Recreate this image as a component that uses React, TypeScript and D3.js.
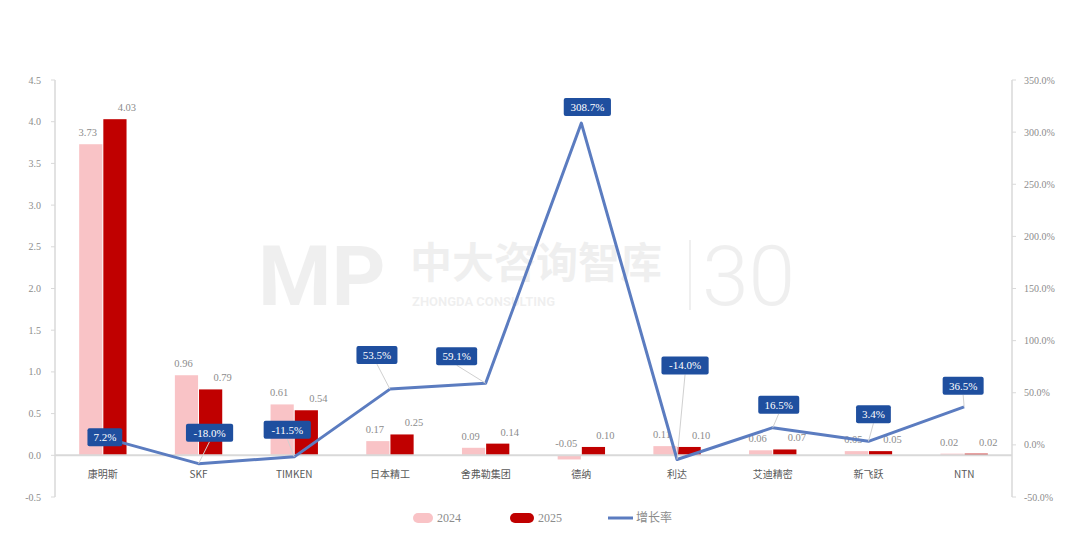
import * as d3 from 'd3';

// categories and values
const categories = ['康明斯', 'SKF', 'TIMKEN', '日本精工', '舍弗勒集团', '德纳', '利达', '艾迪精密', '新飞跃', 'NTN'];
const values2024 = [3.73, 0.96, 0.61, 0.17, 0.09, -0.05, 0.11, 0.06, 0.05, 0.02];
const values2025 = [4.03, 0.79, 0.54, 0.25, 0.14, 0.1, 0.1, 0.07, 0.05, 0.02];
const growth = [7.2, -18.0, -11.5, 53.5, 59.1, 308.7, -14.0, 16.5, 3.4, 36.5];
const leftTicks = [-0.5, 0, 0.5, 1, 1.5, 2, 2.5, 3, 3.5, 4, 4.5];
const rightTicks = [-50, 0, 50, 100, 150, 200, 250, 300, 350];
const seriesNames = ['2024', '2025', '增长率'];

// manual placement of the growth labels (px from the point), as in the source
const growthLabelShift: [number, number][] = [
  [2, 0], [11, -31], [-7, -27], [-13, -34], [-29, -27],
  [6, -16], [8, -94], [6, -23], [5, -27], [-1, -21],
];

const W = 1080;
const H = 548;
const margin = { top: 80, right: 68, bottom: 51, left: 55 };
const PINK = '#f9c3c6';
const RED = '#c00000';
const LINE = '#5b7cc0';
const BOX = '#1f4f9f';
const GRID = '#d9d9d9';
const NUM_FONT = '"Liberation Serif", "DejaVu Serif", serif';
const CJK_FONT = '"Noto Sans CJK SC", sans-serif';

export default function App() {
  const x0 = margin.left;
  const x1 = W - margin.right;
  const y0 = margin.top;
  const y1 = H - margin.bottom;

  const xScale = d3.scaleBand().domain(categories).range([x0, x1]);
  const inner = d3.scaleBand().domain(['2024', '2025']).range([0, xScale.bandwidth()]).paddingInner(0.04).paddingOuter(1.0);
  const yLeft = d3.scaleLinear().domain([-0.5, 4.5]).range([y1, y0]);
  const yRight = d3.scaleLinear().domain([-50, 350]).range([y1, y0]);

  const cx = (c: string) => (xScale(c) ?? 0) + xScale.bandwidth() / 2;
  const linePath = d3
    .line<number>()
    .x((_, i) => cx(categories[i]))
    .y((d) => yRight(d))(growth);

  const bars = categories.map((c, i) => {
    const items = [
      { key: '2024', v: values2024[i], color: PINK, lx: -3 },
      { key: '2025', v: values2025[i], color: RED, lx: 12 },
    ];
    return items.map((b) => {
      const bx = (xScale(c) ?? 0) + (inner(b.key) ?? 0);
      const top = yLeft(Math.max(0, b.v));
      const bottom = yLeft(Math.min(0, b.v));
      return (
        <g key={c + b.key}>
          <rect x={bx} y={top} width={inner.bandwidth()} height={Math.max(1, bottom - top)} fill={b.color} />
          <text
            x={bx + inner.bandwidth() / 2 + b.lx}
            y={yLeft(Math.max(0, b.v)) - 8}
            textAnchor="middle"
            fontSize={10.5}
            fontFamily={NUM_FONT}
            fill="#8c8c8c"
          >
            {b.v.toFixed(2)}
          </text>
        </g>
      );
    });
  });

  const growthLabels = growth.map((g, i) => {
    const px = cx(categories[i]);
    const py = yRight(g);
    const [dx, dy] = growthLabelShift[i];
    const bx = px + dx;
    const by = py + dy;
    const txt = g.toFixed(1) + '%';
    const bw = txt.length * 6.2 + 10;
    const bh = 18;
    return (
      <g key={'g' + i}>
        {dy < -20 && (
          <line x1={bx} y1={by + bh / 2} x2={px} y2={py} stroke="#d0d0d0" strokeWidth={1} />
        )}
        <rect x={bx - bw / 2} y={by - bh / 2} width={bw} height={bh} rx={2} fill={BOX} />
        <text x={bx} y={by + 4} textAnchor="middle" fontSize={11} fontFamily={NUM_FONT} fill="#fff">
          {txt}
        </text>
      </g>
    );
  });

  const legendY = 518;
  return (
    <svg width={W} height={H} style={{ position: 'absolute', left: 0, top: 0, background: '#fff' }}>
      {/* watermark */}
      <g opacity={0.06} fontFamily={CJK_FONT} fontWeight={700} fill="#000">
        <text x={258} y={305} fontSize={84} fontFamily="Roboto, sans-serif">MP</text>
        <text x={410} y={278} fontSize={42}>中大咨询智库</text>
        <text x={412} y={306} fontSize={13} fontFamily="Roboto, sans-serif">ZHONGDA CONSULTING</text>
        <line x1={690} y1={240} x2={690} y2={310} stroke="#000" strokeWidth={2} />
        <text x={702} y={305} fontSize={84} fontWeight={300} fontFamily="Roboto, sans-serif">30</text>
      </g>

      {/* left axis */}
      <line x1={x0} y1={y0} x2={x0} y2={y1} stroke={GRID} strokeWidth={1.5} />
      {leftTicks.map((t) => (
        <g key={'l' + t}>
          <line x1={x0 - 4} x2={x0} y1={yLeft(t)} y2={yLeft(t)} stroke={GRID} />
          <text x={x0 - 14} y={yLeft(t) + 3.5} textAnchor="end" fontSize={10} fontFamily={NUM_FONT} fill="#8c8c8c">
            {t.toFixed(1)}
          </text>
        </g>
      ))}

      {/* right axis */}
      <line x1={x1} y1={y0} x2={x1} y2={y1} stroke={GRID} strokeWidth={1.5} />
      {rightTicks.map((t) => (
        <g key={'r' + t}>
          <line x1={x1} x2={x1 + 4} y1={yRight(t)} y2={yRight(t)} stroke={GRID} />
          <text x={x1 + 12} y={yRight(t) + 3.5} textAnchor="start" fontSize={10} fontFamily={NUM_FONT} fill="#8c8c8c">
            {t.toFixed(1) + '%'}
          </text>
        </g>
      ))}

      {bars}

      {/* zero line */}
      <line x1={x0} x2={x1} y1={yLeft(0)} y2={yLeft(0)} stroke={GRID} strokeWidth={2} />

      {/* category labels */}
      {categories.map((c) => (
        <text key={'c' + c} x={cx(c)} y={y1 - 19} textAnchor="middle" fontSize={10} fontFamily={CJK_FONT} fill="#595959">
          {c}
        </text>
      ))}

      <path d={linePath ?? ''} fill="none" stroke={LINE} strokeWidth={3} strokeLinejoin="round" />
      {growthLabels}

      {/* legend */}
      <g fontSize={12} fontFamily={NUM_FONT} fill="#8c8c8c">
        <rect x={413} y={legendY - 5} width={20} height={10} rx={5} fill={PINK} />
        <text x={437} y={legendY + 4}>{seriesNames[0]}</text>
        <rect x={510} y={legendY - 5} width={24} height={10} rx={5} fill={RED} />
        <text x={538} y={legendY + 4}>{seriesNames[1]}</text>
        <line x1={608} x2={633} y1={legendY} y2={legendY} stroke={LINE} strokeWidth={3} />
        <text x={636} y={legendY + 4} fontFamily={CJK_FONT}>{seriesNames[2]}</text>
      </g>
    </svg>
  );
}
